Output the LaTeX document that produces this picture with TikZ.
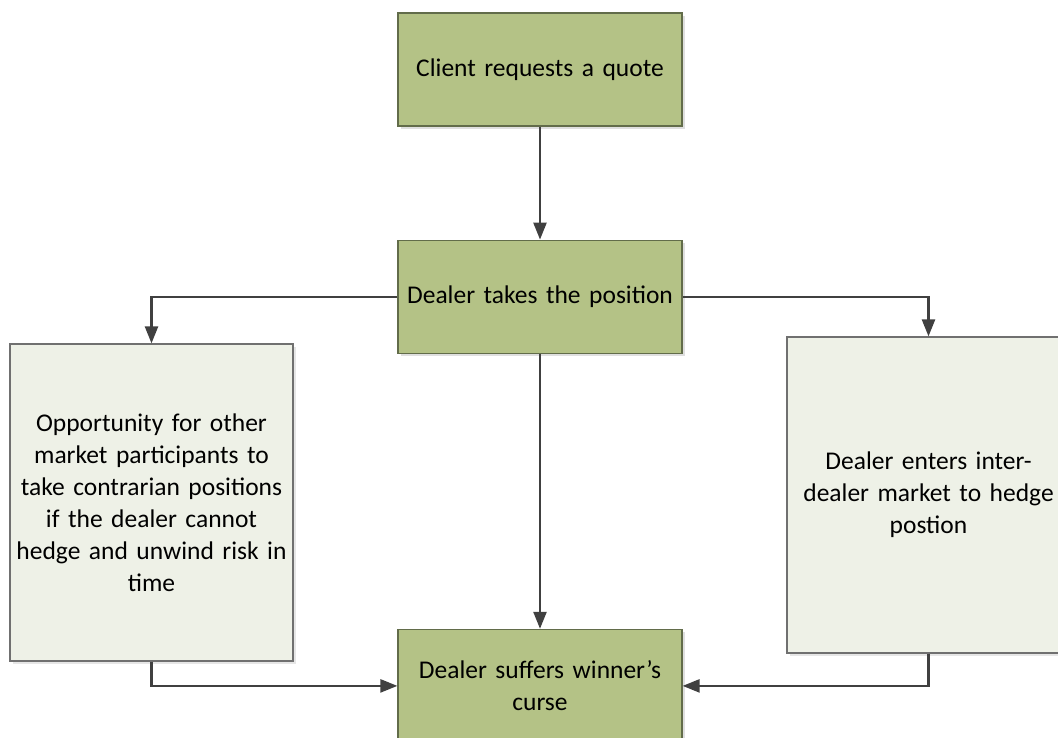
\documentclass[tikz,border=0pt]{standalone}
\usepackage{fontspec}
\setmainfont{Carlito}
\usepackage{tikz}
\usetikzlibrary{arrows.meta,positioning,shadows}
\definecolor{quoteGreen}{RGB}{180,194,134}
\definecolor{quoteEdge}{RGB}{98,108,74}
\definecolor{paleFill}{RGB}{238,241,231}
\definecolor{paleEdge}{RGB}{112,112,112}
\definecolor{flowGrey}{RGB}{64,64,64}

\begin{document}
\begin{tikzpicture}[x=1pt,y=1pt,font=\fontsize{25.5}{32}\selectfont,
    greenbox/.style={draw=quoteEdge,fill=quoteGreen,line width=1.2pt,
                 minimum width=284pt,minimum height=113pt,text width=276pt,
                 align=center,inner sep=4pt,
                 drop shadow={shadow xshift=3pt,shadow yshift=-3pt,opacity=0.25}},
    palebox/.style={draw=paleEdge,fill=paleFill,line width=1.2pt,
                 minimum width=283pt,minimum height=317pt,text width=280pt,
                 align=center,inner sep=1pt,
                 drop shadow={shadow xshift=3pt,shadow yshift=-3pt,opacity=0.2}},
    ar/.style={-{Triangle[length=17pt,width=13pt]},flowGrey,line width=2.4pt}]

    \useasboundingbox (0,0) rectangle (1058,-738);
    \clip (0,0) rectangle (1058,-738);

    \node[greenbox] at (540,-69.5) (req) {Client requests a quote};
    \node[greenbox,below=113pt of req] (take) {Dealer takes the position};
    \node[greenbox,below=275pt of take] (curse) {Dealer suffers winner’s\\ curse};
    \node[palebox] at (151.5,-502.5) (opp)
      {Opportunity for other\\ market participants to\\ take contrarian positions\\
       if the dealer cannot\\ hedge and unwind risk in\\ time};
    \node[palebox,minimum height=316pt] at (928.5,-495) (hedge)
      {Dealer enters inter-\\ dealer market to hedge\\ postion};

    \draw[ar] (req) -- (take);
    \draw[ar] (take) -- (curse);
    \draw[ar] (take.west) -| (opp.north);
    \draw[ar] (take.east) -| (hedge.north);
    \draw[ar] (opp.south) |- (curse.west);
    \draw[ar] (hedge.south) |- (curse.east);
  \end{tikzpicture}
\end{document}
